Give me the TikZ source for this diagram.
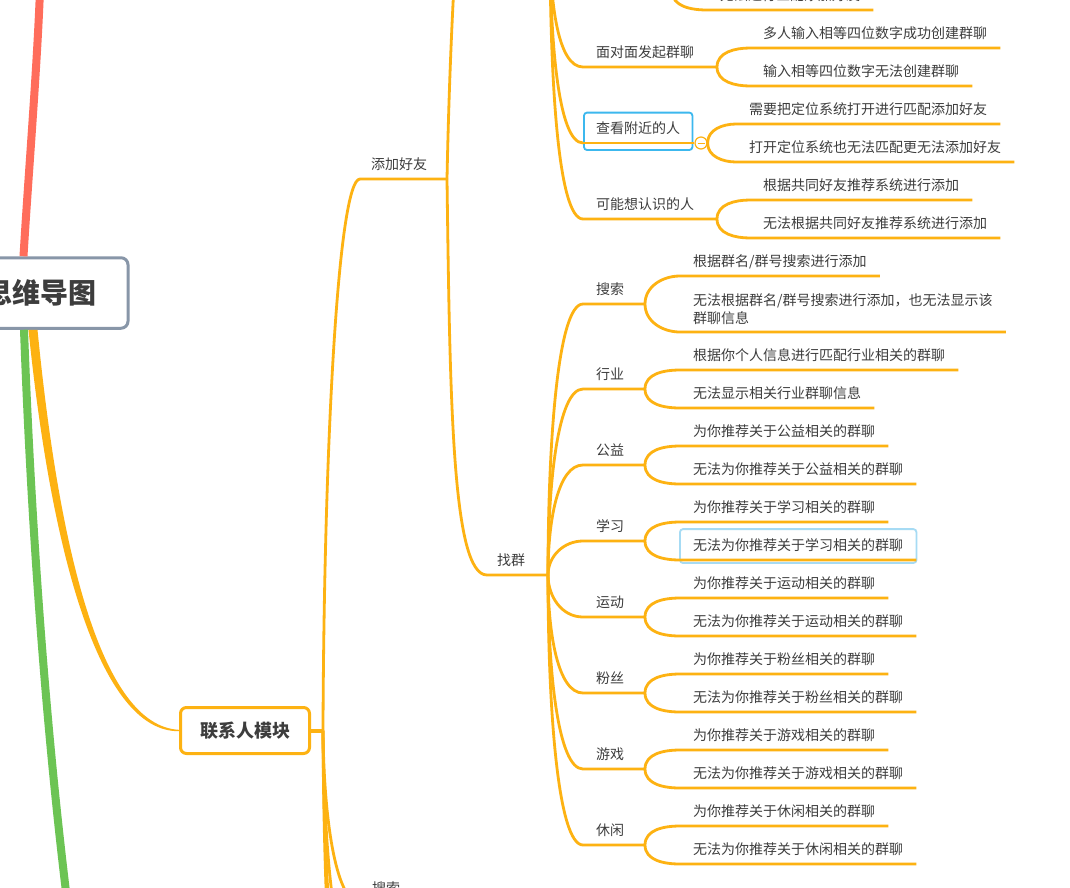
\documentclass[tikz,border=0pt]{standalone}
\usepackage{fontspec}
\setmainfont{Noto Sans CJK SC}

\definecolor{mmorange}{HTML}{FDB212}
\definecolor{mmred}{HTML}{FF6D5B}
\definecolor{mmgreen}{HTML}{6CC454}
\definecolor{mmgray}{HTML}{8896A8}
\definecolor{mmtext}{HTML}{3D3D3D}
\definecolor{selblue}{HTML}{3CB8EE}
\definecolor{sellight}{HTML}{A6DBF4}

\tikzset{
	branch/.style={draw=mmorange, line width=2.8pt},
	subtext/.style={anchor=south west, inner xsep=13pt, inner ysep=7pt, text=mmtext, font=\fontsize{14}{18}\selectfont},
	topic/.style={subtext, text height=10.5pt, text depth=2pt},
	selbox/.style={rounded corners=3pt, line width=1.8pt},
}

\begin{document}
\begin{tikzpicture}[x=1pt, y=-1pt]
	\useasboundingbox (0,0) rectangle (1070,887);
	\clip (0,0) rectangle (1070,887);
	\fill[white] (0,0) rectangle (1070,887);

	% central topic and main branches
	\node[draw=mmgray, line width=3pt, rounded corners=7pt, fill=white, minimum width=176pt, minimum height=70.5pt, text=mmtext, font=\fontsize{28}{34}\selectfont\bfseries] (root) at (40,293) {思维导图};
	\node[draw=mmorange, line width=3pt, rounded corners=6pt, fill=white, minimum width=129pt, minimum height=46pt, text=mmtext, font=\fontsize{18}{22}\selectfont\bfseries] (contact) at (245,730.5) {联系人模块};
	\coordinate (redtop) at (40,-10);
	\coordinate (greenend) at (67,900);
	\draw[mmred, line width=8pt] ([shift={(-16.5,0)}]root.north) .. controls (28,180) and (37,70) .. (redtop);
	\draw[mmgreen, line width=8pt] ([shift={(-16,0)}]root.south) .. controls (31,520) and (45,720) .. (greenend);
	\fill[mmorange] ([shift={(-11.5,0)}]root.south) .. controls (51,551) and (99,732) .. ([shift={(0,0.7)}]contact.west) -- ([shift={(0,-0.7)}]contact.west) .. controls (101,726) and (59,549) .. ([shift={(-2.5,0)}]root.south) -- cycle;

	% 联系人模块
	\coordinate (cspine) at (323,730.5);
	\draw[branch, line width=4pt] (contact.east) -- (cspine);
	\node[topic, inner xsep=11pt] (addf) at (360,179) {添加好友};
	\coordinate (addspine) at (447,179);
	\draw[branch] (cspine) .. controls +(1,-281) and +(-22,0) .. (addf.south west) -- (addspine);
	\node[topic, inner xsep=12pt] (search) at (360,903) {搜索};
	\draw[branch] (cspine) .. controls +(1,100) and +(-22,0) .. (search.south west);
	\coordinate (low1) at (360,980);
	\coordinate (low2) at (360,1060);
	\coordinate (low3) at (360,1140);
	\draw[branch] (cspine) .. controls +(1,138) and +(-22,0) .. (low1);
	\draw[branch] (cspine) .. controls +(1,182) and +(-22,0) .. (low2);
	\draw[branch] (cspine) .. controls +(1,226) and +(-22,0) .. (low3);

	% 添加好友
	\coordinate (friendup) at (486,-230);
	\draw[branch] (addspine) .. controls +(3,-150) and +(-25,0) .. (friendup);
	\node[topic, inner xsep=10pt] (zq) at (487,575) {找群};
	\coordinate (zqspine) at (548,575);
	\draw[branch] (addspine) .. controls +(3,221) and +(-35,0) .. (zq.south west) -- (zqspine);

	\coordinate (friendsub) at (550,-60);
	\node[topic] (face) at (583,67) {面对面发起群聊};
	\node[topic] (nearby) at (583,143) {查看附近的人};
	\node[topic] (maybe) at (583,219) {可能想认识的人};
	\draw[branch] (friendsub) to[out=-90, in=180, out distance=64pt, in distance=25pt] (face.south west) -- ++(134,0) coordinate (face-r);
	\draw[branch] (friendsub) to[out=-90, in=180, out distance=100pt, in distance=25pt] (nearby.south west);
	\draw[branch] (friendsub) to[out=-90, in=180, out distance=140pt, in distance=25pt] (maybe.south west) -- ++(134,0) coordinate (maybe-r);
	\draw[selblue, selbox] ([shift={(1,7)}]nearby.south west) rectangle ([shift={(-1,-3.5)}]nearby.north east);
	\node[circle, draw=mmorange, line width=1.2pt, fill=white, minimum size=12pt, inner sep=0pt] (fold) at (701,143) {};
	\draw[branch] (nearby.south west) -- (fold.west);
	\draw[mmorange, line width=1pt] ([shift={(-3.5,0)}]fold.center) -- ([shift={(3.5,0)}]fold.center);

	\coordinate (radar) at (672,-9);
	\node[topic] (radar2) at (707,10) {无法进行匹配添加好友};
	\draw[branch] (radar) to[out=-90, in=180] (radar2.south west) -- (radar2.south east);

	\node[topic] (face1) at (750,48) {多人输入相等四位数字成功创建群聊};
	\node[topic] (face2) at (750,86) {输入相等四位数字无法创建群聊};
	\draw[branch] (face-r) to[out=90, in=180] (face1.south west) -- (face1.south east);
	\draw[branch] (face-r) to[out=-90, in=180] (face2.south west) -- (face2.south east);

	\node[topic] (near1) at (736,124) {需要把定位系统打开进行匹配添加好友};
	\node[topic] (near2) at (736,162) {打开定位系统也无法匹配更无法添加好友};
	\draw[branch] (fold.east) to[out=90, in=180] (near1.south west) -- (near1.south east);
	\draw[branch] (fold.east) to[out=-90, in=180] (near2.south west) -- (near2.south east);

	\node[topic] (maybe1) at (750,200) {根据共同好友推荐系统进行添加};
	\node[topic] (maybe2) at (750,238) {无法根据共同好友推荐系统进行添加};
	\draw[branch] (maybe-r) to[out=90, in=180] (maybe1.south west) -- (maybe1.south east);
	\draw[branch] (maybe-r) to[out=-90, in=180] (maybe2.south west) -- (maybe2.south east);

	% 找群
	\node[topic] (gsearch) at (583,304) {搜索};
	\node[topic] (gtrade) at (583,389) {行业};
	\node[topic] (gcharity) at (583,465) {公益};
	\node[topic] (gstudy) at (583,541) {学习};
	\node[topic] (gsport) at (583,617) {运动};
	\node[topic] (gfans) at (583,693) {粉丝};
	\node[topic] (ggame) at (583,769) {游戏};
	\node[topic] (gleisure) at (583,845) {休闲};
	\draw[branch] (zqspine) to[out=90, in=180, out distance=135pt, in distance=25pt] (gsearch.south west) -- ++(62,0) coordinate (gsearch-r);
	\draw[branch] (zqspine) to[out=90, in=180, out distance=93pt, in distance=25pt] (gtrade.south west) -- ++(62,0) coordinate (gtrade-r);
	\draw[branch] (zqspine) to[out=90, in=180, out distance=55pt, in distance=25pt] (gcharity.south west) -- ++(62,0) coordinate (gcharity-r);
	\draw[branch] (zqspine) to[out=90, in=180] (gstudy.south west) -- ++(62,0) coordinate (gstudy-r);
	\draw[branch] (zqspine) to[out=-90, in=180] (gsport.south west) -- ++(62,0) coordinate (gsport-r);
	\draw[branch] (zqspine) to[out=-90, in=180, out distance=59pt, in distance=25pt] (gfans.south west) -- ++(62,0) coordinate (gfans-r);
	\draw[branch] (zqspine) to[out=-90, in=180, out distance=97pt, in distance=25pt] (ggame.south west) -- ++(62,0) coordinate (ggame-r);
	\draw[branch] (zqspine) to[out=-90, in=180, out distance=135pt, in distance=25pt] (gleisure.south west) -- ++(62,0) coordinate (gleisure-r);

	\node[topic] (search1) at (680,276) {根据群名/群号搜索进行添加};
	\node[subtext, align=left] (search2) at (680,332) {无法根据群名/群号搜索进行添加，也无法显示该\\群聊信息};
	\draw[branch] (gsearch-r) to[out=90, in=180] (search1.south west) -- (search1.south east);
	\draw[branch] (gsearch-r) to[out=-90, in=180] (search2.south west) -- (search2.south east);

	\node[topic] (trade1) at (680,370) {根据你个人信息进行匹配行业相关的群聊};
	\node[topic] (trade2) at (680,408) {无法显示相关行业群聊信息};
	\draw[branch] (gtrade-r) to[out=90, in=180] (trade1.south west) -- (trade1.south east);
	\draw[branch] (gtrade-r) to[out=-90, in=180] (trade2.south west) -- (trade2.south east);

	\node[topic] (charity1) at (680,446) {为你推荐关于公益相关的群聊};
	\node[topic] (charity2) at (680,484) {无法为你推荐关于公益相关的群聊};
	\draw[branch] (gcharity-r) to[out=90, in=180] (charity1.south west) -- (charity1.south east);
	\draw[branch] (gcharity-r) to[out=-90, in=180] (charity2.south west) -- (charity2.south east);

	\node[topic] (study1) at (680,522) {为你推荐关于学习相关的群聊};
	\node[topic] (study2) at (680,560) {无法为你推荐关于学习相关的群聊};
	\draw[sellight, selbox] ([shift={(0,3)}]study2.south west) rectangle ([shift={(0,-4)}]study2.north east);
	\draw[branch] (gstudy-r) to[out=90, in=180] (study1.south west) -- (study1.south east);
	\draw[branch] (gstudy-r) to[out=-90, in=180] (study2.south west) -- (study2.south east);

	\node[topic] (sport1) at (680,598) {为你推荐关于运动相关的群聊};
	\node[topic] (sport2) at (680,636) {无法为你推荐关于运动相关的群聊};
	\draw[branch] (gsport-r) to[out=90, in=180] (sport1.south west) -- (sport1.south east);
	\draw[branch] (gsport-r) to[out=-90, in=180] (sport2.south west) -- (sport2.south east);

	\node[topic] (fans1) at (680,674) {为你推荐关于粉丝相关的群聊};
	\node[topic] (fans2) at (680,712) {无法为你推荐关于粉丝相关的群聊};
	\draw[branch] (gfans-r) to[out=90, in=180] (fans1.south west) -- (fans1.south east);
	\draw[branch] (gfans-r) to[out=-90, in=180] (fans2.south west) -- (fans2.south east);

	\node[topic] (game1) at (680,750) {为你推荐关于游戏相关的群聊};
	\node[topic] (game2) at (680,788) {无法为你推荐关于游戏相关的群聊};
	\draw[branch] (ggame-r) to[out=90, in=180] (game1.south west) -- (game1.south east);
	\draw[branch] (ggame-r) to[out=-90, in=180] (game2.south west) -- (game2.south east);

	\node[topic] (leisure1) at (680,826) {为你推荐关于休闲相关的群聊};
	\node[topic] (leisure2) at (680,864) {无法为你推荐关于休闲相关的群聊};
	\draw[branch] (gleisure-r) to[out=90, in=180] (leisure1.south west) -- (leisure1.south east);
	\draw[branch] (gleisure-r) to[out=-90, in=180] (leisure2.south west) -- (leisure2.south east);
\end{tikzpicture}
\end{document}
